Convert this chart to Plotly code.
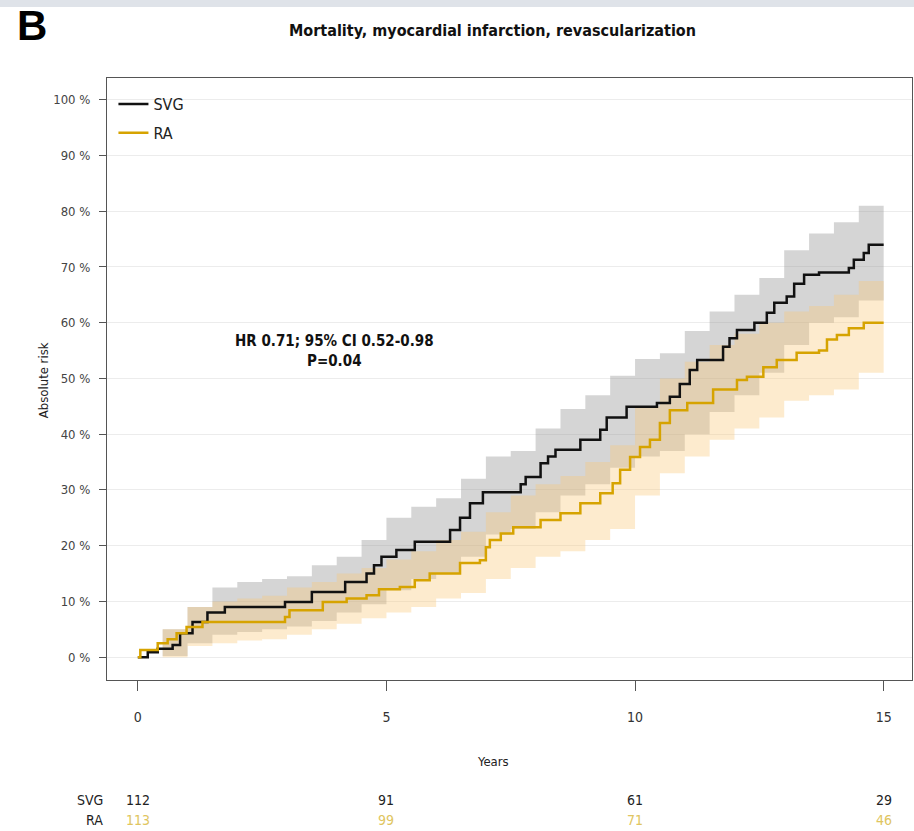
import plotly.graph_objects as go

# Kaplan-Meier style cumulative risk (%) — step change points (years, %)
svg_t = [0, 0.2, 0.4, 0.7, 0.85, 1.1, 1.4, 1.75, 2.96, 3.5, 4.17, 4.6, 4.75, 4.9, 5.2, 5.57,
         6.28, 6.48, 6.68, 6.94, 7.7, 7.8, 8.1, 8.25, 8.4, 8.9, 9.3, 9.43, 9.83, 10.44, 10.7,
         10.9, 11.1, 11.25, 11.77, 11.9, 12.05, 12.4, 12.65, 12.8, 13.05, 13.2, 13.4, 13.7,
         14.3, 14.4, 14.6, 14.7, 15.0]
svg_r = [0, 0.9, 1.5, 2.2, 4.3, 6.3, 8.0, 9.0, 9.9, 11.7, 13.5, 15.0, 16.5, 18.0, 19.2, 20.7,
         22.8, 25.0, 27.6, 29.6, 31.0, 32.3, 34.8, 36.0, 37.2, 39.0, 40.8, 43.0, 44.9, 45.6, 46.7,
         49.0, 51.5, 53.3, 55.7, 57.2, 58.7, 60.0, 61.8, 63.6, 64.7, 67.0, 68.6, 69.0,
         69.8, 71.3, 72.5, 74.0, 74.0]

ra_t = [0, 0.05, 0.4, 0.6, 0.78, 0.98, 1.3, 2.96, 3.05, 3.72, 4.2, 4.6, 4.85, 5.27, 5.57, 5.87,
        6.48, 6.88, 7.0, 7.08, 7.3, 7.55, 8.1, 8.5, 8.9, 9.3, 9.55, 9.7, 9.9, 10.1, 10.3, 10.5,
        10.7, 11.05, 11.57, 12.05, 12.25, 12.58, 12.85, 13.25, 13.7, 13.86, 14.06, 14.3, 14.6, 15.0]
ra_r = [0, 1.3, 2.5, 3.2, 4.3, 5.4, 6.3, 7.2, 8.4, 9.9, 10.5, 11.1, 12.2, 12.6, 13.8, 15.0,
        16.9, 17.4, 19.7, 21.0, 22.2, 23.3, 24.6, 25.8, 27.6, 29.4, 31.2, 33.6, 35.9, 37.7, 39.0, 42.0,
        44.3, 45.6, 48.0, 49.7, 50.3, 52.0, 53.3, 54.6, 55.0, 57.0, 57.8, 59.0, 60.0, 60.0]

# 95% confidence bands (%), on a half-year grid
ci_t = [0, 0.5, 1, 1.5, 2, 2.5, 3, 3.5, 4, 4.5, 5, 5.5, 6, 6.5, 7, 7.5, 8, 8.5, 9, 9.5,
        10, 10.5, 11, 11.5, 12, 12.5, 13, 13.5, 14, 14.5, 15]
svg_hi = [0, 5, 9, 12.5, 13.5, 14, 14.5, 16.5, 18, 21, 25, 27, 28.5, 32, 36, 37, 41, 44.5, 47, 50.5,
          53.5, 54.5, 58.5, 62, 65, 68, 73, 76, 78, 81, 82]
svg_lo = [0, 0.2, 2.5, 4, 4.5, 5, 5.5, 6.5, 8, 9.5, 12, 14, 15, 18, 22, 23, 26, 29, 31, 34,
          36, 37, 40, 44, 47, 51, 56, 60, 61, 64, 65]
ra_hi = [0, 5, 9, 10, 10.5, 11, 12.5, 13.5, 15, 16, 17.5, 19, 21, 22.5, 26, 29, 31, 32.5, 35, 38,
         45, 50, 53, 56, 58, 60, 62, 63, 65, 67.5, 68]
ra_lo = [0, 0, 2, 2.5, 3, 3.2, 4, 5, 6, 7, 8, 9, 10.5, 11.5, 14, 16, 18, 19, 21, 23,
         29, 33, 36, 39, 41, 43, 46, 47, 48, 51, 51]

# Numbers at risk
risk_years = [0, 5, 10, 15]
svg_at_risk = [112, 91, 61, 29]
ra_at_risk = [113, 99, 71, 46]

y_ticks = list(range(0, 101, 10))
y_ticktext = [f"{v} %" for v in y_ticks]

SVG_COLOR = "#111111"
RA_COLOR = "#D6A300"
FONT = "Liberation Sans Narrow, Arial Narrow, DejaVu Sans Condensed, Liberation Sans, sans-serif"

fig = go.Figure()

# confidence bands
fig.add_trace(go.Scatter(x=ci_t, y=svg_lo, mode="lines", line=dict(width=0, shape="hv"),
                         showlegend=False, hoverinfo="skip"))
fig.add_trace(go.Scatter(x=ci_t, y=svg_hi, mode="lines", line=dict(width=0, shape="hv"),
                         fill="tonexty", fillcolor="rgba(150,150,150,0.40)",
                         showlegend=False, hoverinfo="skip"))
fig.add_trace(go.Scatter(x=ci_t, y=ra_lo, mode="lines", line=dict(width=0, shape="hv"),
                         showlegend=False, hoverinfo="skip"))
fig.add_trace(go.Scatter(x=ci_t, y=ra_hi, mode="lines", line=dict(width=0, shape="hv"),
                         fill="tonexty", fillcolor="rgba(250,200,120,0.36)",
                         showlegend=False, hoverinfo="skip"))

# risk curves
fig.add_trace(go.Scatter(x=svg_t, y=svg_r, mode="lines", name="SVG", legendgroup="svg",
                         line=dict(color=SVG_COLOR, width=2.5, shape="hv")))
fig.add_trace(go.Scatter(x=ra_t, y=ra_r, mode="lines", name="RA", legendgroup="ra",
                         line=dict(color=RA_COLOR, width=2.5, shape="hv")))


def note(text, x, y, size, color="#222", xref="paper", yref="paper", xanchor="center",
         yanchor="middle", **kw):
    return dict(text=text, xref=xref, yref=yref, x=x, y=y, xanchor=xanchor, yanchor=yanchor,
                showarrow=False, font=dict(size=size, family=kw.pop("family", FONT), color=color),
                **kw)


annotations = [
    note("<b>B</b>", -0.0932, 1.1279, 42, color="#000", yanchor="top", borderpad=0,
         family="Liberation Sans, Arial, sans-serif"),
    note("<b>Mortality, myocardial infarction, revascularization</b>", 0.4795, 1.0797, 16,
         color="#111"),
    note("<b>HR 0.71; 95% CI 0.52-0.98<br>P=0.04</b>", 3.96, 55.0, 15, color="#111",
         xref="x", yref="y", align="center"),
    note("Absolute risk", -0.0795, 0.498, 13, textangle=-90),
    note("Years", 0.4795, -0.1362, 13),
    note("SVG", -0.002, -0.1993, 14, xanchor="right"),
    note("RA", -0.002, -0.2326, 14, xanchor="right"),
]
for yr, n in zip(risk_years, svg_at_risk):
    annotations.append(note(str(n), yr, -0.1993, 14, xref="x"))
for yr, n in zip(risk_years, ra_at_risk):
    annotations.append(note(str(n), yr, -0.2326, 14, color="#E0C560", xref="x"))

fig.update_layout(
    width=914, height=831,
    margin=dict(l=107, r=2, t=78, b=151),
    paper_bgcolor="#ffffff", plot_bgcolor="#ffffff",
    font=dict(family=FONT, size=13, color="#333"),
    showlegend=True,
    legend=dict(x=0.008, y=0.985, xanchor="left", yanchor="top", bgcolor="rgba(0,0,0,0)",
                font=dict(size=16, family=FONT, color="#222"), tracegroupgap=5),
    annotations=annotations,
    shapes=[dict(type="rect", xref="paper", yref="paper", x0=-0.2, x1=1.01,
                 y0=(680 - 0) / 602, y1=(680 - 7) / 602, fillcolor="#dfe3e9", line=dict(width=0),
                 layer="below")],
)
fig.update_xaxes(range=[-0.62, 15.57], tickvals=risk_years, ticks="outside", ticklen=10,
                 tickcolor="#555", showline=True, linecolor="#555", linewidth=1, mirror=True,
                 showgrid=False, zeroline=False, ticklabelstandoff=14,
                 tickfont=dict(size=14, family=FONT, color="#333"))
fig.update_yaxes(range=[-4.1, 103.9], tickvals=y_ticks, ticktext=y_ticktext, ticks="outside",
                 ticklen=7, tickcolor="#555", showline=True, linecolor="#555", linewidth=1,
                 mirror=True, showgrid=True, gridcolor="#ececec", zeroline=False,
                 ticklabelstandoff=6, tickfont=dict(size=13, family=FONT, color="#444"))

fig.write_html("out.html")
